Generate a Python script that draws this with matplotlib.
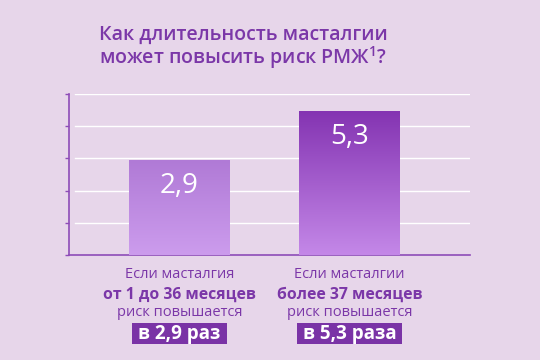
import matplotlib
matplotlib.use("Agg")
import matplotlib.pyplot as plt
import numpy as np
from matplotlib.colors import LinearSegmentedColormap
from matplotlib.patches import Rectangle

# ---- data ----
categories = ["от 1 до 36 месяцев", "более 37 месяцев"]
values = [2.9, 5.3]
value_labels = ["2,9", "5,3"]
line1 = ["Если масталгия", "Если масталгии"]
line2 = ["от 1 до 36 месяцев", "более 37 месяцев"]
line3 = ["риск повышается", "риск повышается"]
badge = ["в 2,9 раз", "в 5,3 раза"]
title_l1 = "Как длительность масталгии"
title_l2 = "может повысить риск РМЖ$^{1}$?"

# ---- style ----
BG = "#e7d6ea"
PURPLE = "#7b37a8"
AXIS = "#8e4cb8"
BADGE = "#7a33a6"
grad_top = ["#b07ad6", "#8434b2"]
grad_bot = ["#cc9ced", "#c488e8"]

plt.rcParams["font.family"] = ["Open Sans", "DejaVu Sans"]
plt.rcParams["mathtext.fontset"] = "custom"
plt.rcParams["mathtext.rm"] = "Open Sans:semibold"
plt.rcParams["mathtext.it"] = "Open Sans:semibold"
plt.rcParams["mathtext.bf"] = "Open Sans:bold"

W, H = 540, 360
fig = plt.figure(figsize=(5.4, 3.6), dpi=100, facecolor=BG)
ax = fig.add_axes([69/W, 1 - 255/H, 401/W, 161/H])
ax.set_facecolor(BG)

base = -1.75
ytop = 6.14
ax.set_ylim(base, ytop)
ax.set_xlim(-0.65, 1.709)

x = np.arange(len(values))
width = 0.594
bars = ax.bar(x, [v - base for v in values], bottom=base, width=width,
              color="none", zorder=3)

for i, b in enumerate(bars):
    cmap = LinearSegmentedColormap.from_list("g", [grad_bot[i], grad_top[i]])
    grad = np.linspace(0, 1, 256).reshape(-1, 1)
    x0, y0 = b.get_x(), b.get_y()
    im = ax.imshow(grad, cmap=cmap, origin="lower", aspect="auto",
                   extent=[x0, x0 + b.get_width(), y0, y0 + b.get_height()],
                   zorder=3)
    im.set_clip_path(b)
    ax.text(x[i], values[i] - 1.25, value_labels[i], ha="center", va="center",
            color="white", fontsize=20, zorder=5)

# grid
ticks = np.linspace(base, ytop, 6)
ax.set_yticks(ticks)
ax.set_yticklabels([])
ax.tick_params(axis="y", length=3, color=AXIS, width=1)
ax.set_xticks([])
for t in ticks[1:]:
    ax.axhline(t, xmin=6/401, xmax=1, color="white", lw=1, zorder=1)
ax.set_ylim(base, ytop)
for s in ["top", "right"]:
    ax.spines[s].set_visible(False)
for s in ["left", "bottom"]:
    ax.spines[s].set_color(AXIS)
    ax.spines[s].set_linewidth(1.2)

# title
fig.text(243/W, 1 - 35/H, title_l1, ha="center", va="center",
         color=PURPLE, fontsize=14, fontweight="semibold")
fig.text(243/W, 1 - 58/H, title_l2, ha="center", va="center",
         color=PURPLE, fontsize=14, fontweight="semibold")

# bottom captions
renderer = fig.canvas.get_renderer()
for i in range(len(values)):
    cx = ax.transData.transform((x[i], 0))[0] / W
    fig.text(cx, 1 - 275/H, line1[i], ha="center", va="center",
             color=PURPLE, fontsize=10.5)
    fig.text(cx, 1 - 295/H, line2[i], ha="center", va="center",
             color=PURPLE, fontsize=11.3, fontweight="bold")
    fig.text(cx, 1 - 313/H, line3[i], ha="center", va="center",
             color=PURPLE, fontsize=10.5)
    t = fig.text(cx, 1 - 334/H, badge[i], ha="center", va="center",
                 color="white", fontsize=13.5, fontweight="bold", zorder=5)
    bb = t.get_window_extent(renderer)
    bw = bb.width + 12
    bh = 21
    fig.patches.append(Rectangle((cx - bw / 2 / W, 1 - 344/H), bw / W, bh / H,
                                 transform=fig.transFigure, fc=BADGE, ec="none",
                                 zorder=4))

fig.savefig("out.png", dpi=100, facecolor=BG)
